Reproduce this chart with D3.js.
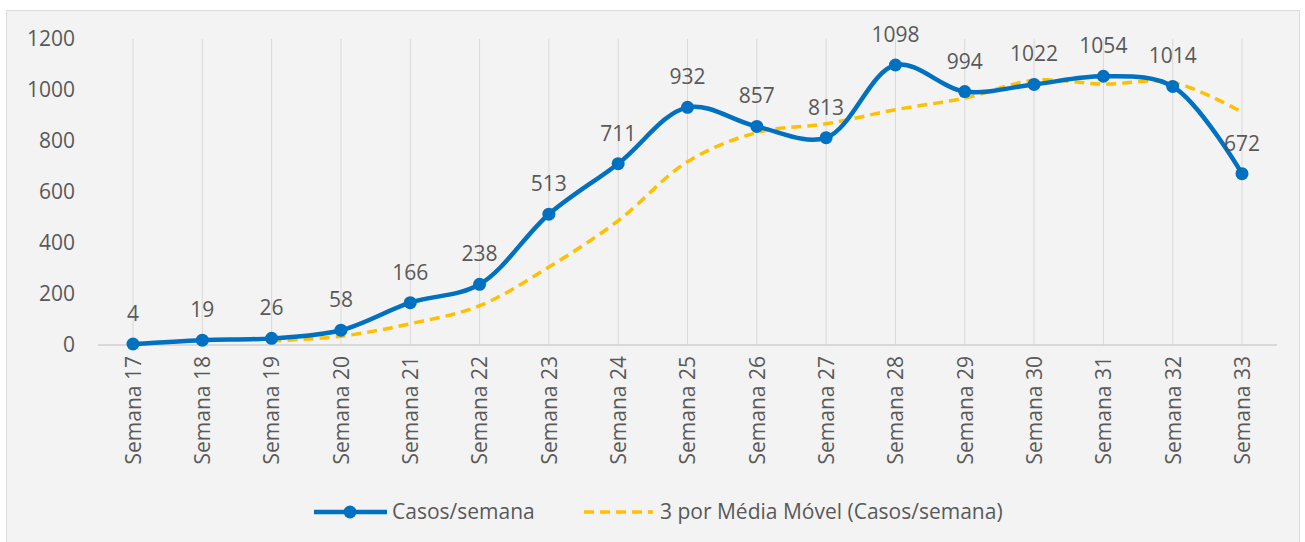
<!DOCTYPE html>
<html>
<head>
<meta charset="utf-8">
<script src="https://cdn.jsdelivr.net/npm/d3@7"></script>
<style>
  body { margin: 0; background: #fff; }
  svg { display: block; font-family: "Open Sans", sans-serif; }
</style>
</head>
<body>
<svg id="chart" width="1305" height="542"></svg>
<script>
var semanas = ["Semana 17", "Semana 18", "Semana 19", "Semana 20", "Semana 21", "Semana 22",
  "Semana 23", "Semana 24", "Semana 25", "Semana 26", "Semana 27", "Semana 28", "Semana 29",
  "Semana 30", "Semana 31", "Semana 32", "Semana 33"];
var casos = [4, 19, 26, 58, 166, 238, 513, 711, 932, 857, 813, 1098, 994, 1022, 1054, 1014, 672];
// moving average (3 weeks), starts at week 19
var mediaMovel = [null, null, 16.3, 34.3, 83.3, 154, 305.7, 487.3, 718.7, 833.3, 867.3,
  922.7, 968.3, 1038, 1023.3, 1030, 913.3];
var yTicks = [0, 200, 400, 600, 800, 1000, 1200];

var svg = d3.select('#chart');

// panel background
svg.append('rect')
  .attr('x', 6.5).attr('y', 10.5)
  .attr('width', 1293).attr('height', 540)
  .attr('fill', '#f3f3f3')
  .attr('stroke', '#dcdcdc');

var x = d3.scalePoint()
  .domain(semanas)
  .range([133, 1242]);

var y = d3.scaleLinear()
  .domain([0, 1200])
  .range([345, 39]);

// vertical grid lines
svg.append('g').selectAll('line')
  .data(semanas)
  .enter().append('line')
  .attr('x1', function(d) { return x(d); })
  .attr('x2', function(d) { return x(d); })
  .attr('y1', y(1200))
  .attr('y2', y(0))
  .attr('stroke', '#d9d9d9')
  .attr('stroke-width', 1);

// baseline
svg.append('line')
  .attr('x1', 98).attr('x2', 1277)
  .attr('y1', y(0)).attr('y2', y(0))
  .attr('stroke', '#d0d0d0')
  .attr('stroke-width', 1.5);

// y axis
var yAxis = svg.append('g')
  .attr('transform', 'translate(75,0)')
  .call(d3.axisLeft(y).tickValues(yTicks).tickFormat(d3.format('d')).tickSize(0).tickPadding(0));
yAxis.select('.domain').remove();
yAxis.selectAll('text')
  .attr('fill', '#595959')
  .style('font-size', '21px')
  .style('font-family', '"Open Sans", sans-serif');

// x axis
var xAxis = svg.append('g')
  .attr('transform', 'translate(0,' + y(0) + ')')
  .call(d3.axisBottom(x).tickSize(0).tickPadding(0));
xAxis.select('.domain').remove();
xAxis.selectAll('text')
  .attr('fill', '#595959')
  .style('font-size', '21px')
  .style('font-family', '"Open Sans", sans-serif')
  .attr('text-anchor', 'end')
  .attr('transform', 'rotate(-90)')
  .attr('x', -11)
  .attr('y', 0)
  .attr('dy', '0.35em');

// moving average line
var maLine = d3.line()
  .defined(function(d) { return d != null; })
  .x(function(d, i) { return x(semanas[i]); })
  .y(function(d) { return y(d); })
  .curve(d3.curveCatmullRom.alpha(0.5));

svg.append('path')
  .datum(mediaMovel)
  .attr('fill', 'none')
  .attr('stroke', '#ffc000')
  .attr('stroke-width', 3.5)
  .attr('stroke-dasharray', '10,6')
  .attr('d', maLine);

// cases line
var line = d3.line()
  .x(function(d, i) { return x(semanas[i]); })
  .y(function(d) { return y(d); })
  .curve(d3.curveCatmullRom.alpha(0.5));

svg.append('path')
  .datum(casos)
  .attr('fill', 'none')
  .attr('stroke', '#0070c0')
  .attr('stroke-width', 4.5)
  .attr('stroke-linejoin', 'round')
  .attr('d', line);

svg.append('g').selectAll('circle')
  .data(casos)
  .enter().append('circle')
  .attr('cx', function(d, i) { return x(semanas[i]); })
  .attr('cy', function(d) { return y(d); })
  .attr('r', 6.5)
  .attr('fill', '#0070c0');

// data labels
svg.append('g').selectAll('text')
  .data(casos)
  .enter().append('text')
  .attr('x', function(d, i) { return x(semanas[i]); })
  .attr('y', function(d) { return y(d) - 23; })
  .attr('text-anchor', 'middle')
  .attr('fill', '#595959')
  .style('font-size', '21px')
  .text(function(d) { return d; });

// legend
var legend = svg.append('g').attr('transform', 'translate(0,512)');
legend.append('line')
  .attr('x1', 314).attr('x2', 387)
  .attr('stroke', '#0070c0').attr('stroke-width', 4.5);
legend.append('circle')
  .attr('cx', 350).attr('r', 6.5).attr('fill', '#0070c0');
legend.append('text')
  .attr('x', 392).attr('dy', '0.35em')
  .attr('fill', '#595959').style('font-size', '21px')
  .text('Casos/semana');
legend.append('line')
  .attr('x1', 584).attr('x2', 653)
  .attr('stroke', '#ffc000').attr('stroke-width', 3.5)
  .attr('stroke-dasharray', '10,6');
legend.append('text')
  .attr('x', 660).attr('dy', '0.35em')
  .attr('fill', '#595959').style('font-size', '21px')
  .text('3 por Média Móvel (Casos/semana)');
</script>
</body>
</html>
